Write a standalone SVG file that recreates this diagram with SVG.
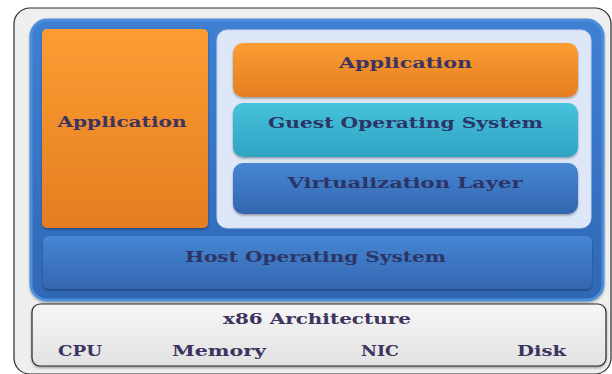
<svg xmlns="http://www.w3.org/2000/svg" width="612" height="374" viewBox="0 0 612 374">
  <defs>
    <linearGradient id="gOrange" x1="0" y1="0" x2="0" y2="1">
      <stop offset="0" stop-color="#fb9d33"/>
      <stop offset="1" stop-color="#e57d20"/>
    </linearGradient>
    <linearGradient id="gCyan" x1="0" y1="0" x2="0" y2="1">
      <stop offset="0" stop-color="#46c3dc"/>
      <stop offset="1" stop-color="#2fa2c2"/>
    </linearGradient>
    <linearGradient id="gBlue" x1="0" y1="0" x2="0" y2="1">
      <stop offset="0" stop-color="#4686d3"/>
      <stop offset="1" stop-color="#3466b0"/>
    </linearGradient>
    <linearGradient id="gFrame" x1="0" y1="0" x2="0" y2="1">
      <stop offset="0" stop-color="#3f80d2"/>
      <stop offset="1" stop-color="#2f68b6"/>
    </linearGradient>
    <linearGradient id="gGray" x1="0" y1="0" x2="0" y2="1">
      <stop offset="0" stop-color="#f6f6f6"/>
      <stop offset="1" stop-color="#e2e2e2"/>
    </linearGradient>
    <filter id="shadow" x="-5%" y="-10%" width="110%" height="125%">
      <feDropShadow dx="0" dy="1.5" stdDeviation="1.2" flood-color="#000" flood-opacity="0.35"/>
    </filter>
  </defs>
  <style>
    .lbl { font-family: "DejaVu Serif", "Liberation Serif", serif; font-weight: bold; font-size: 14px; fill: #3d3461; }
    .lblb { font-family: "DejaVu Serif", "Liberation Serif", serif; font-weight: bold; font-size: 14px; fill: #2c3566; }
  </style>

  <rect width="612" height="374" fill="#ffffff"/>

  <!-- outer frame -->
  <g id="frame">
    <rect x="14" y="8" width="597" height="366" rx="16" fill="#efefef" stroke="#2a2a2a" stroke-width="1.2"/>
  </g>

  <!-- blue host container -->
  <g id="host-container">
    <rect x="31" y="20" width="572" height="280" rx="16" fill="url(#gFrame)" stroke="#4d8edb" stroke-width="3" filter="url(#shadow)"/>
  </g>

  <!-- native application -->
  <g id="app-native">
    <rect x="42" y="29" width="166" height="199" rx="5" fill="url(#gOrange)" filter="url(#shadow)"/>
    <text class="lbl" x="122" y="127" text-anchor="middle" textLength="129" lengthAdjust="spacingAndGlyphs">Application</text>
  </g>

  <!-- virtual machine panel -->
  <g id="vm-panel">
    <rect x="217" y="30" width="374" height="198" rx="10" fill="#dde7f8" stroke="#c6d6f1" stroke-width="1"/>
  </g>

  <g id="app-guest">
    <rect x="233" y="43" width="345" height="54" rx="10" fill="url(#gOrange)" filter="url(#shadow)"/>
    <text class="lbl" x="405.5" y="68" text-anchor="middle" textLength="133" lengthAdjust="spacingAndGlyphs">Application</text>
  </g>

  <g id="guest-os">
    <rect x="233" y="103" width="345" height="54" rx="10" fill="url(#gCyan)" filter="url(#shadow)"/>
    <text class="lblb" x="405.5" y="128" text-anchor="middle" textLength="275" lengthAdjust="spacingAndGlyphs">Guest Operating System</text>
  </g>

  <g id="virtualization-layer">
    <rect x="233" y="163" width="345" height="51" rx="10" fill="url(#gBlue)" filter="url(#shadow)"/>
    <text class="lblb" x="405" y="188" text-anchor="middle" textLength="235" lengthAdjust="spacingAndGlyphs">Virtualization Layer</text>
  </g>

  <g id="host-os">
    <rect x="43" y="236" width="549" height="53" rx="6" fill="url(#gBlue)" filter="url(#shadow)"/>
    <text class="lblb" x="315.5" y="262" text-anchor="middle" textLength="261" lengthAdjust="spacingAndGlyphs">Host Operating System</text>
  </g>

  <!-- hardware layer -->
  <g id="hardware">
    <rect x="32" y="304" width="574" height="62" rx="8" fill="url(#gGray)" stroke="#262626" stroke-width="1.2" filter="url(#shadow)"/>
    <text class="lbl" x="317" y="324" text-anchor="middle" textLength="188" lengthAdjust="spacingAndGlyphs">x86 Architecture</text>
    <text class="lbl" x="80" y="356" text-anchor="middle" textLength="44" lengthAdjust="spacingAndGlyphs">CPU</text>
    <text class="lbl" x="219" y="356" text-anchor="middle" textLength="94" lengthAdjust="spacingAndGlyphs">Memory</text>
    <text class="lbl" x="380" y="356" text-anchor="middle" textLength="38" lengthAdjust="spacingAndGlyphs">NIC</text>
    <text class="lbl" x="541.5" y="356" text-anchor="middle" textLength="49" lengthAdjust="spacingAndGlyphs">Disk</text>
  </g>

  <!-- connectors: none, layers are stacked -->
  <g id="connectors"/>
</svg>
